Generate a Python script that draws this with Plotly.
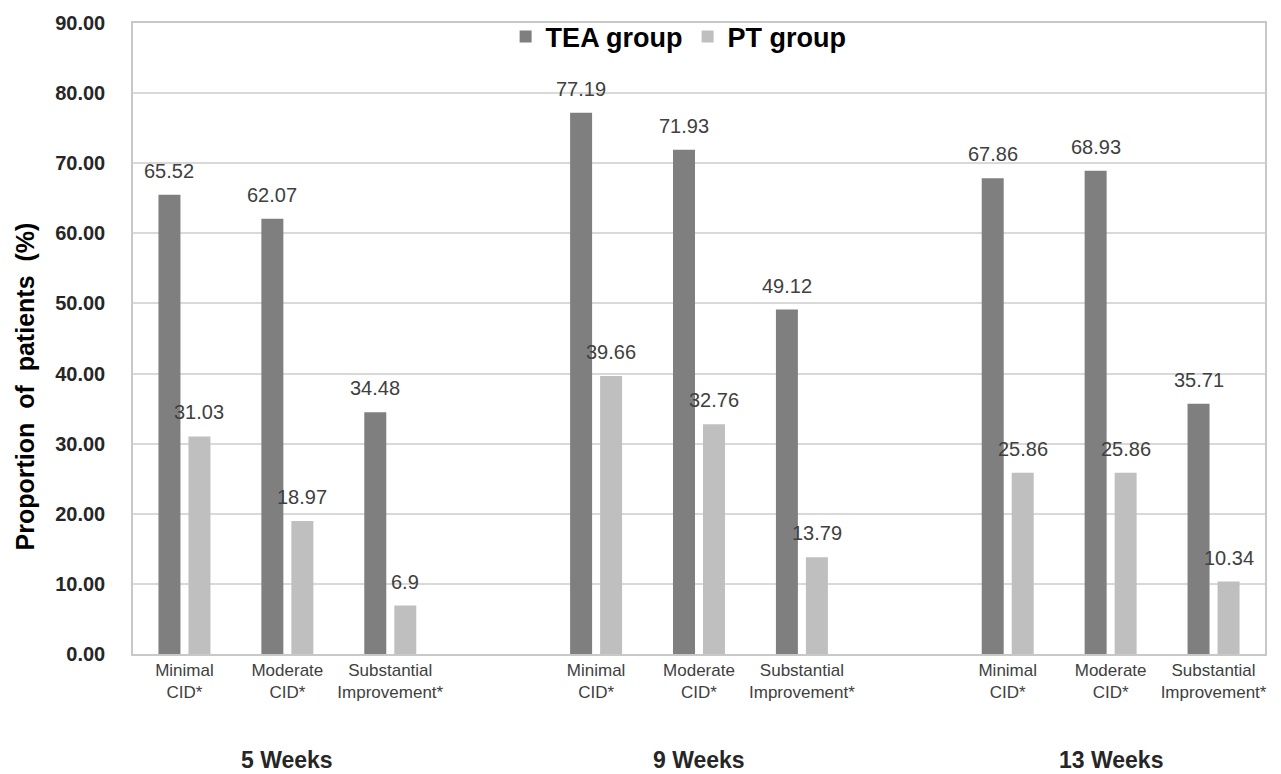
import plotly.graph_objects as go

# Outcome categories and the three follow-up time points
categories = ["Minimal<br>CID*", "Moderate<br>CID*", "Substantial<br>Improvement*"]
time_points = ["5 Weeks", "9 Weeks", "13 Weeks"]

# Proportion of patients (%) per time point, in category order
tea_values = [65.52, 62.07, 34.48, 77.19, 71.93, 49.12, 67.86, 68.93, 35.71]
pt_values = [31.03, 18.97, 6.9, 39.66, 32.76, 13.79, 25.86, 25.86, 10.34]

y_ticks = [0, 10, 20, 30, 40, 50, 60, 70, 80, 90]

FONT = "Arial, Liberation Sans, sans-serif"
BARGAP = 0.417
BARGROUPGAP = 0.267

# One empty slot separates each time point on the category axis
n_cat = len(categories)
x_pos = [g * (n_cat + 1) + c for g in range(len(time_points)) for c in range(n_cat)]
tick_text = [categories[c] for g in range(len(time_points)) for c in range(n_cat)]
group_centers = [g * (n_cat + 1) + (n_cat - 1) / 2 for g in range(len(time_points))]

# Horizontal shift of each series' bar centre inside a grouped slot
half_slot = (1 - BARGAP) / 4

fig = go.Figure()
series = [("TEA group", tea_values, "#7f7f7f", -half_slot),
          ("PT group", pt_values, "#bfbfbf", half_slot)]
for name, values, color, shift in series:
    fig.add_trace(go.Bar(
        name=name, x=x_pos, y=values,
        marker=dict(color=color, line=dict(width=0)),
    ))
    # value labels above each bar
    for xp, v in zip(x_pos, values):
        fig.add_annotation(
            x=xp + shift, y=v, xref="x", yref="y",
            text=f"{v:g}", showarrow=False,
            yanchor="bottom", yshift=11,
            font=dict(family=FONT, size=20, color="#404040"),
        )

for label, xc in zip(time_points, group_centers):
    fig.add_annotation(
        x=xc, y=0, xref="x", yref="y", yanchor="middle", yshift=-106,
        text=f"<b>{label}</b>", showarrow=False,
        font=dict(family=FONT, size=23, color="#262626"),
    )

# Vertical axis title
fig.add_annotation(
    x=0, y=0.424, xref="paper", yref="paper", xshift=-108,
    xanchor="center", yanchor="middle", textangle=-90,
    text="<b>Proportion&nbsp; of&nbsp; patients&nbsp; (%)</b>", showarrow=False,
    font=dict(family=FONT, size=25, color="#000000"),
)

fig.update_layout(
    width=1281, height=774,
    margin=dict(l=133, r=16, t=19, b=120),
    paper_bgcolor="white", plot_bgcolor="white",
    barmode="group", bargap=BARGAP, bargroupgap=BARGROUPGAP,
    legend=dict(
        orientation="h", x=0.482, y=0.978, xanchor="center", yanchor="middle",
        font=dict(family=FONT, size=27, color="#000000", weight="bold"),
        bgcolor="rgba(0,0,0,0)", itemwidth=30,
        traceorder="normal",
    ),
    xaxis=dict(
        range=[-0.5, len(time_points) * (n_cat + 1) - 1.5],
        tickmode="array", tickvals=x_pos, ticktext=tick_text,
        tickfont=dict(family=FONT, size=17, color="#404040"),
        ticks="", showgrid=False, zeroline=False,
        showline=True, linecolor="#c8c8c8", linewidth=1.5, mirror=True,
    ),
    yaxis=dict(
        range=[0, 90], tickmode="array", tickvals=y_ticks,
        tickformat=".2f",
        tickfont=dict(family=FONT, size=20, color="#262626", weight="bold"),
        ticks="", ticklabelstandoff=22,
        showgrid=True, gridcolor="#d9d9d9", gridwidth=1.5,
        zeroline=False,
        showline=True, linecolor="#c8c8c8", linewidth=1.5, mirror=True,
    ),
)

fig.write_html("out.html")
